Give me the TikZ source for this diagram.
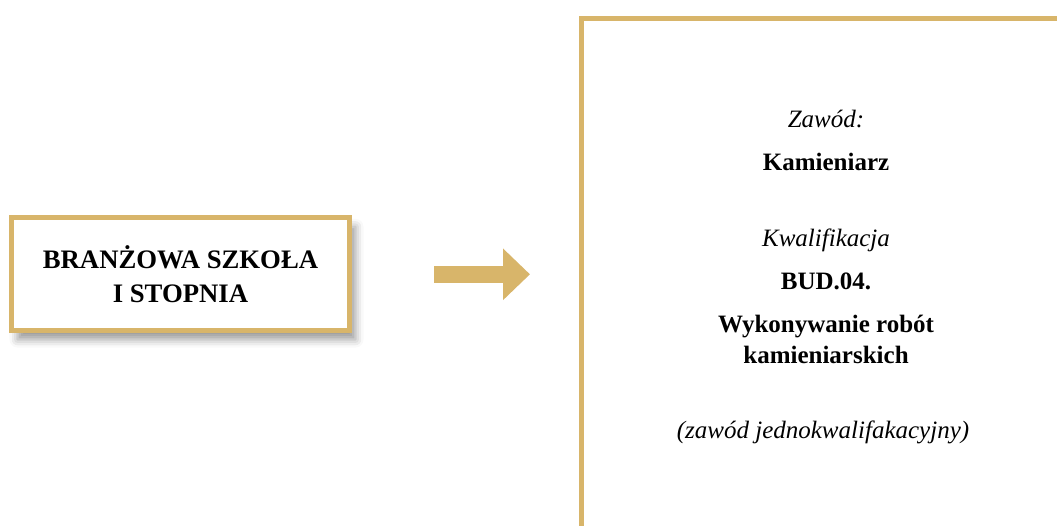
\documentclass[tikz,border=0pt]{standalone}
\usepackage{fontspec}
\setmainfont{Liberation Serif}
\usetikzlibrary{arrows.meta,shadows.blur}
\definecolor{gold}{RGB}{216,181,106}

\begin{document}
\begin{tikzpicture}[x=1pt,y=-1pt,
  frame/.style={draw=gold,line width=5pt,fill=white,inner sep=0,outer sep=0},
  school/.style={frame,minimum width=338pt,minimum height=112.7pt,align=center,
    font=\fontsize{26.7}{34}\selectfont\bfseries,
    blur shadow={shadow xshift=6pt,shadow yshift=-9pt,shadow blur radius=8pt,shadow opacity=40}},
  emtext/.style={anchor=base,align=center,font=\fontsize{25}{31}\selectfont\itshape},
  bftext/.style={anchor=base,align=center,font=\fontsize{25}{31}\selectfont\bfseries},
  bigarrow/.style={draw=gold,line width=16.7pt,-{Triangle[length=27pt,width=50pt]}},
]
  \useasboundingbox (0,0) rectangle (1057,525);
  \clip (0,0) rectangle (1057,525);

  \node[school] (school) at (180.5,274.2) {BRANŻOWA SZKOŁA\\I STOPNIA};

  \coordinate (from) at (434,274.3);
  \coordinate (to) at (530,274.3);
  \draw[bigarrow] (from) -- (to);

  \node[frame,anchor=north west,minimum width=490pt,minimum height=560pt] (info) at (581.5,18.5) {};
  \node[emtext] (zawod) at (826,127) {Zawód:};
  \node[bftext] (zawodname) at (826,170) {Kamieniarz};
  \node[emtext] (kwal) at (826,246.7) {Kwalifikacja};
  \node[bftext] (kwalcode) at (826,289) {BUD.04.};
  \node[bftext] (kwalname) at (826,363) {Wykonywanie robót\\kamieniarskich};
  \node[emtext] (note) at (823,438) {(zawód jednokwalifakacyjny)};
\end{tikzpicture}
\end{document}
